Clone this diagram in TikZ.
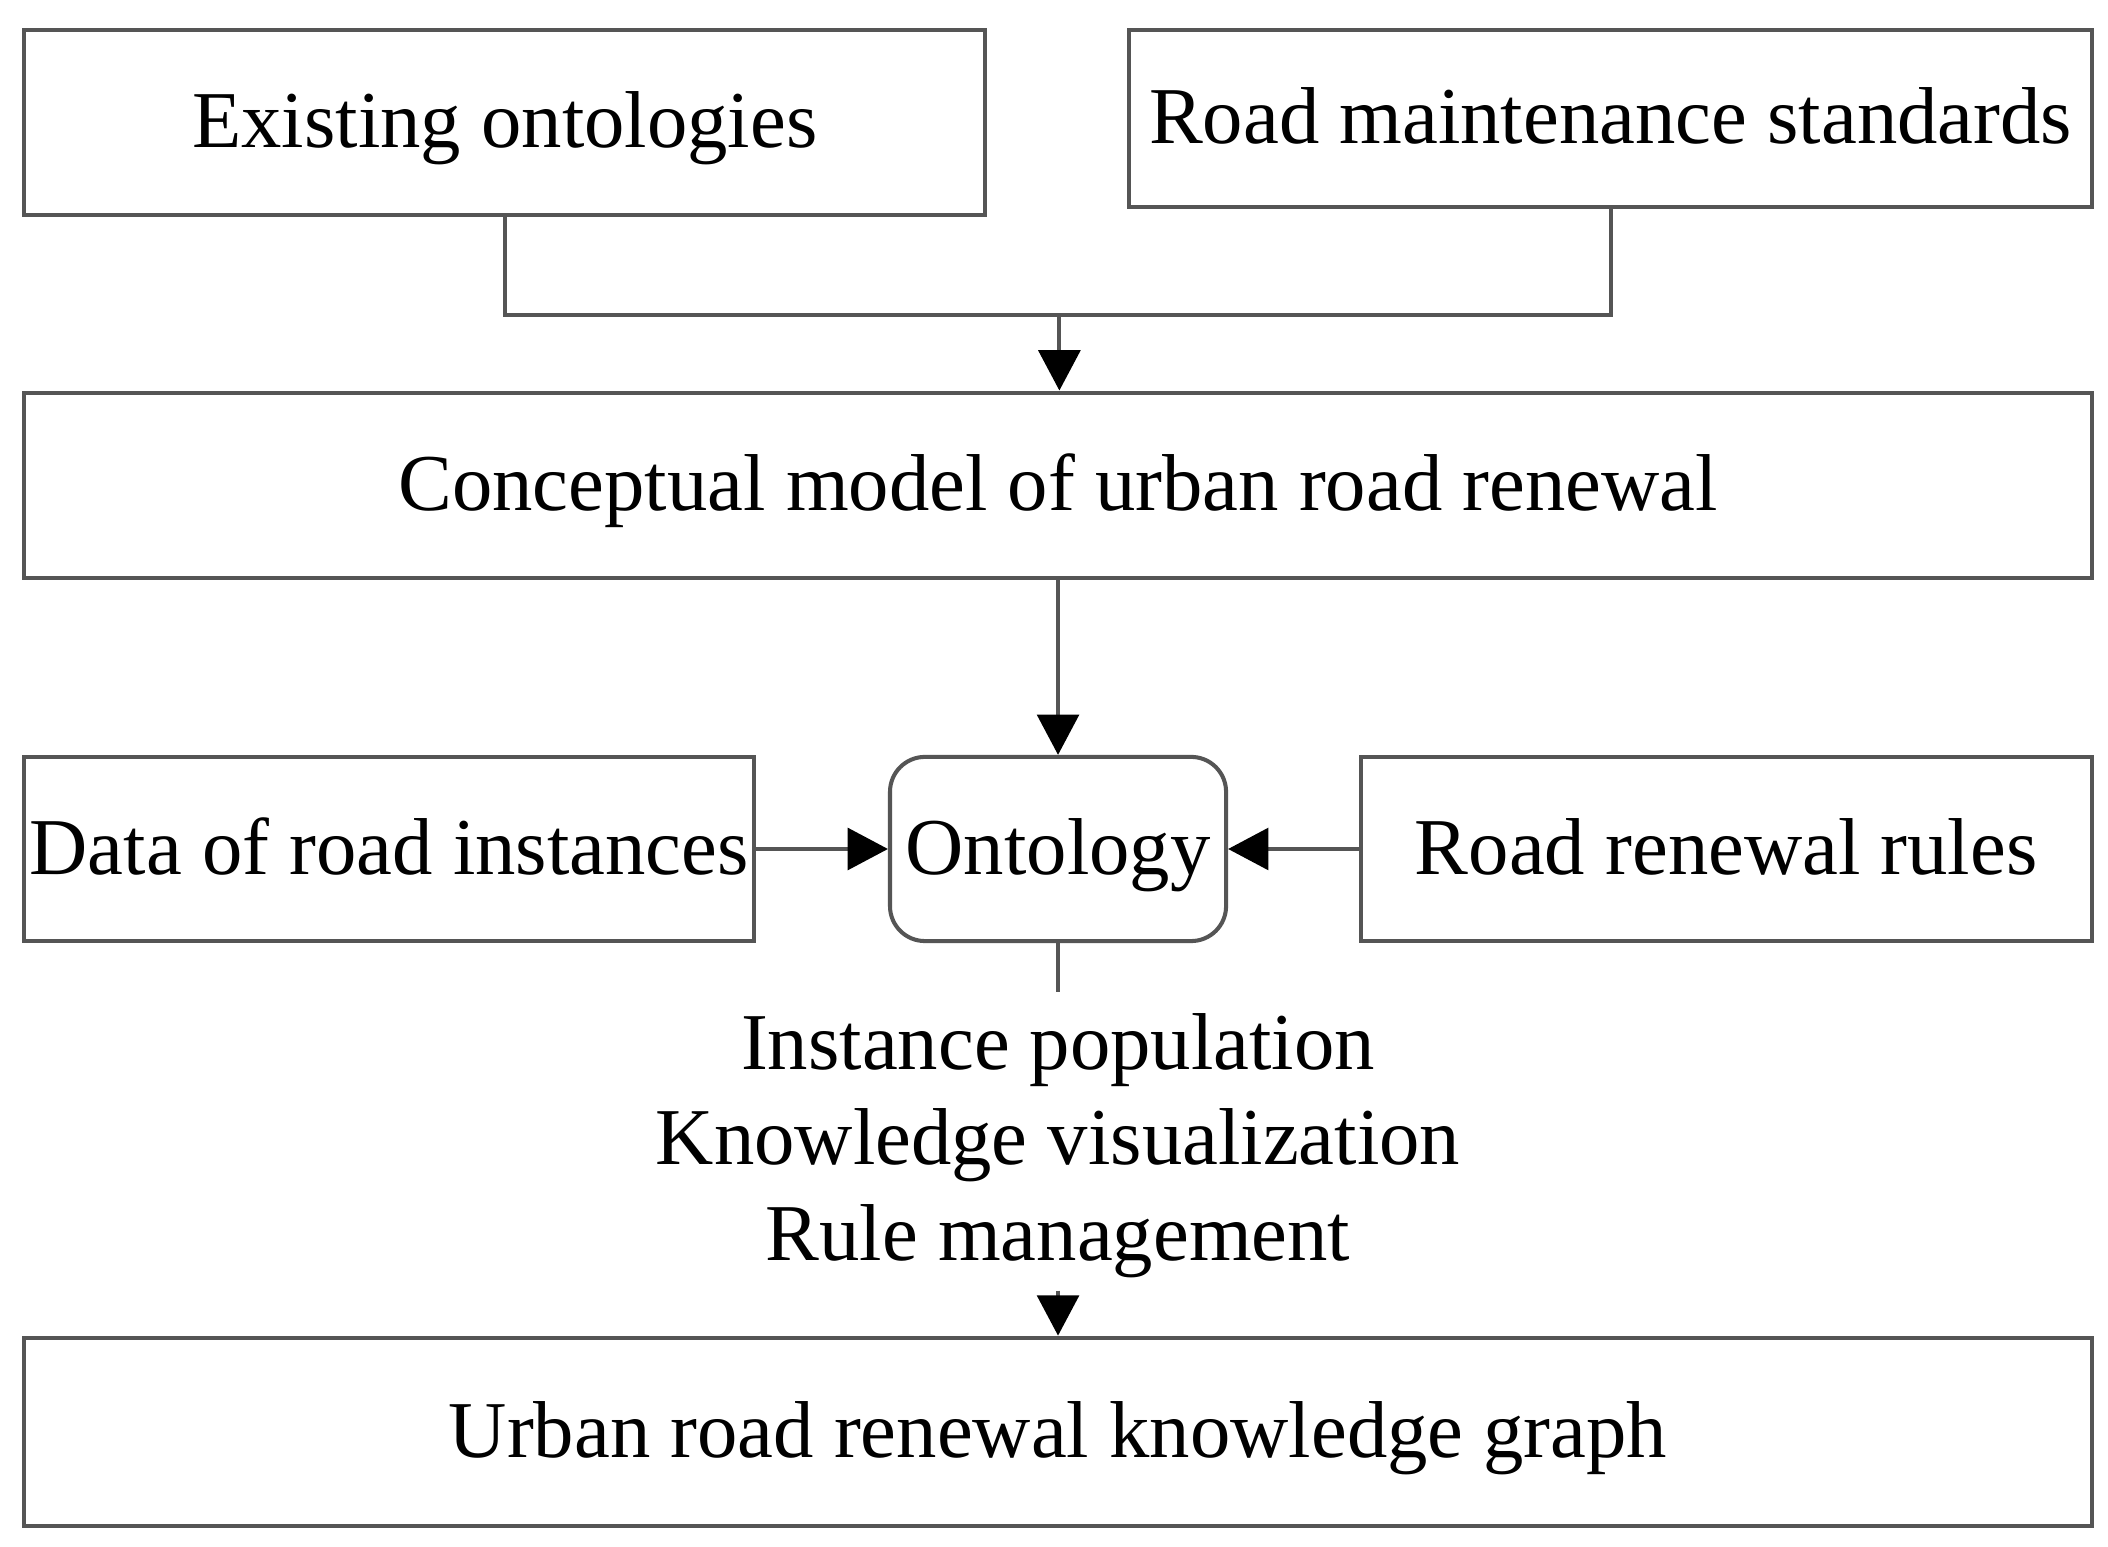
\documentclass[tikz,border=0pt]{standalone}
\usepackage{fontspec}
\setmainfont{Liberation Serif}
\usetikzlibrary{arrows.meta}
\definecolor{linegray}{HTML}{555555}
\begin{document}
\begin{tikzpicture}[x=1pt,y=-1pt,
  box/.style={draw=linegray, line width=3pt, fill=white, inner sep=0pt, align=center,
    text height=42pt, text depth=4pt,
    font=\fontsize{60}{71}\selectfont},
  conn/.style={draw=linegray, line width=3pt},
  arr/.style={conn, -{Triangle[length=30pt,width=31pt,black]}},
  lbl/.style={inner sep=0pt, align=center, font=\fontsize{60}{71}\selectfont}
]
\fill[white] (0,0) rectangle (1568,1150);
\useasboundingbox (0,0) rectangle (1568,1150);

\node[box, minimum width=715pt, minimum height=138pt] (b1) at (375.5,91) {Existing ontologies};
\node[box, minimum width=716pt, minimum height=132pt] (b2) at (1198,88) {Road maintenance standards};
\node[box, minimum width=1538pt, minimum height=138pt] (b3) at (787,361) {Conceptual model of urban road renewal};
\node[box, minimum width=543pt, minimum height=137pt] (b4) at (289.5,631.5) {Data of road instances};
\node[box, rounded corners=26pt, minimum width=250pt, minimum height=137pt] (onto) at (787,631.5) {Ontology};
\node[box, minimum width=544pt, minimum height=137pt] (b5) at (1284,631.5) {Road renewal rules};
\node[box, minimum width=1538pt, minimum height=140pt] (kg) at (787,1065) {Urban road renewal knowledge graph};

\node[lbl] (ops) at (787,852) {Instance population\\Knowledge visualization\\Rule management};

\coordinate (join) at (788,234);
\draw[conn] (b1.south) |- (join) -| (b2.south);
\draw[arr] (join) -- (join |- b3.north);
\draw[arr] (b3.south) -- (onto.north);
\draw[arr] (b4.east) -- (onto.west);
\draw[arr] (b5.west) -- (onto.east);
\coordinate (gapTop) at (787,738);
\coordinate (gapBot) at (787,960);
\draw[conn] (onto.south) -- (gapTop);
\draw[arr] (gapBot) -- (kg.north);
\end{tikzpicture}
\end{document}
